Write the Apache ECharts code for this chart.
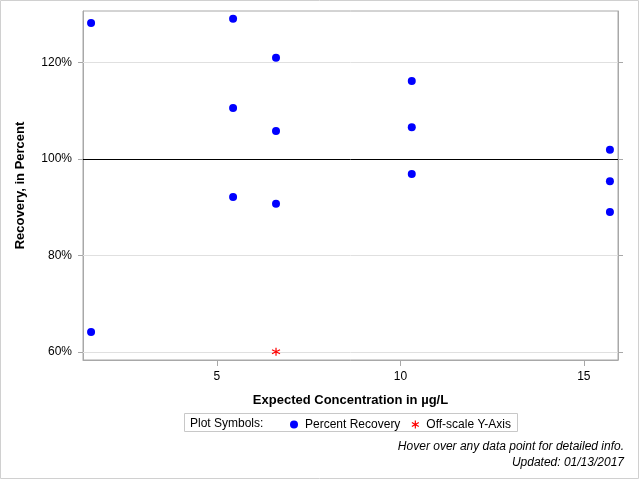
<!DOCTYPE html>
<html>
<head>
<meta charset="utf-8">
<script src="https://cdn.jsdelivr.net/npm/echarts@6/dist/echarts.min.js"></script>
<style>
  html, body { margin: 0; padding: 0; background: #fff; }
  #chart { width: 640px; height: 480px; }
</style>
</head>
<body>
<div id="chart"></div>
<script>
// expected concentration (ug/L) and percent recovery
var recoveryX = [1.57, 1.57, 5.44, 5.44, 5.44, 6.61, 6.61, 6.61, 10.31, 10.31, 10.31, 15.71, 15.71, 15.71];
var recoveryY = [128.2, 64.1, 129.1, 110.6, 92.1, 121.0, 105.8, 90.7, 116.2, 106.6, 96.9, 101.9, 95.4, 89.0];
// off-scale point, drawn at axis bottom
var offX = [6.61];
var offY = [60];
var yTicks = [60, 80, 100, 120];
var xTicks = [5, 10, 15];
var refLine = 100;

var font = "Liberation Sans, Arial, sans-serif";
var starPath = "path://M0,-5L0,5M-4.33,-2.5L4.33,2.5M-4.33,2.5L4.33,-2.5";

var myChart = echarts.init(document.getElementById("chart"));

var gridLines = yTicks.filter(function (v) { return v !== refLine; }).map(function (v) {
  return { yAxis: v, lineStyle: { color: "#e0e0e0", width: 1, type: "solid" } };
});
gridLines.push({ yAxis: refLine, lineStyle: { color: "#000", width: 1, type: "solid" } });

var option = {
  animation: false,
  textStyle: { fontFamily: font },
  grid: { left: 83, right: 22, top: 11, bottom: 120, show: true, borderColor: "#a8a8a8", borderWidth: 1 },
  xAxis: {
    type: "value",
    min: 1.35,
    max: 15.93,
    name: "Expected Concentration in µg/L",
    nameLocation: "middle",
    nameGap: 34,
    nameTextStyle: { fontFamily: font, fontSize: 13, fontWeight: "bold", color: "#000" },
    axisLine: { show: true, lineStyle: { color: "#a8a8a8" } },
    axisTick: { show: true, customValues: xTicks, length: 6, lineStyle: { color: "#a8a8a8" } },
    axisLabel: { customValues: xTicks, color: "#000", fontSize: 12, margin: 11 },
    splitLine: { show: false }
  },
  yAxis: [
    {
      type: "value",
      min: 58.3,
      max: 130.7,
      name: "Recovery, in Percent",
      nameLocation: "middle",
      nameGap: 56,
      nameTextStyle: { fontFamily: font, fontSize: 13, fontWeight: "bold", color: "#000" },
      axisLine: { show: true, lineStyle: { color: "#a8a8a8" } },
      axisTick: { show: true, customValues: yTicks, length: 5, lineStyle: { color: "#a8a8a8" } },
      axisLabel: { customValues: yTicks, color: "#000", fontSize: 12, margin: 11, formatter: "{value}%" },
      splitLine: { show: false }
    },
    {
      type: "value",
      position: "right",
      min: 58.3,
      max: 130.7,
      axisLine: { show: true, lineStyle: { color: "#a8a8a8" } },
      axisTick: { show: true, customValues: yTicks, length: 5, lineStyle: { color: "#a8a8a8" } },
      axisLabel: { show: false },
      splitLine: { show: false }
    }
  ],
  legend: {
    left: 285,
    top: 413,
    itemWidth: 8,
    itemHeight: 8,
    itemGap: 9,
    textStyle: { fontFamily: font, fontSize: 12, color: "#000", padding: [0, 0, 0, 2] },
    data: [
      { name: "Percent Recovery", icon: "circle", itemStyle: { color: "#0000ff", opacity: 1 } },
      { name: "Off-scale Y-Axis", icon: starPath, itemStyle: { color: "none", borderColor: "#ff0000", borderWidth: 1.2, opacity: 1 } }
    ]
  },
  graphic: [
    { type: "rect", shape: { x: 0.5, y: 0.5, width: 638, height: 478 }, style: { fill: "none", stroke: "#d0d0d0", lineWidth: 1 } },
    { type: "rect", shape: { x: 184.5, y: 413.5, width: 333, height: 18 }, style: { fill: "none", stroke: "#c8c8c8", lineWidth: 1 } },
    { type: "text", left: 190, top: 418, style: { text: "Plot Symbols:", font: "12px " + font, fill: "#000" } },
    { type: "text", right: 16, top: 441, style: { text: "Hover over any data point for detailed info.", font: "italic 12px " + font, fill: "#000", textAlign: "right" } },
    { type: "text", right: 16, top: 457, style: { text: "Updated: 01/13/2017", font: "italic 12px " + font, fill: "#000", textAlign: "right" } }
  ],
  series: [
    {
      name: "Percent Recovery",
      type: "scatter",
      symbol: "circle",
      symbolSize: 8,
      itemStyle: { color: "#0000ff", opacity: 1 },
      data: recoveryX.map(function (x, i) { return [x, recoveryY[i]]; }),
      z: 5,
      markLine: {
        silent: true,
        symbol: "none",
        label: { show: false },
        animation: false,
        data: gridLines,
        z: 1
      }
    },
    {
      name: "Off-scale Y-Axis",
      type: "scatter",
      symbol: starPath,
      symbolSize: 8,
      itemStyle: { color: "none", borderColor: "#ff0000", borderWidth: 1.2, opacity: 1 },
      data: offX.map(function (x, i) { return [x, offY[i]]; }),
      z: 5
    }
  ]
};

myChart.setOption(option);
window.addEventListener("resize", function () {
  myChart.resize();
});
</script>
</body>
</html>
